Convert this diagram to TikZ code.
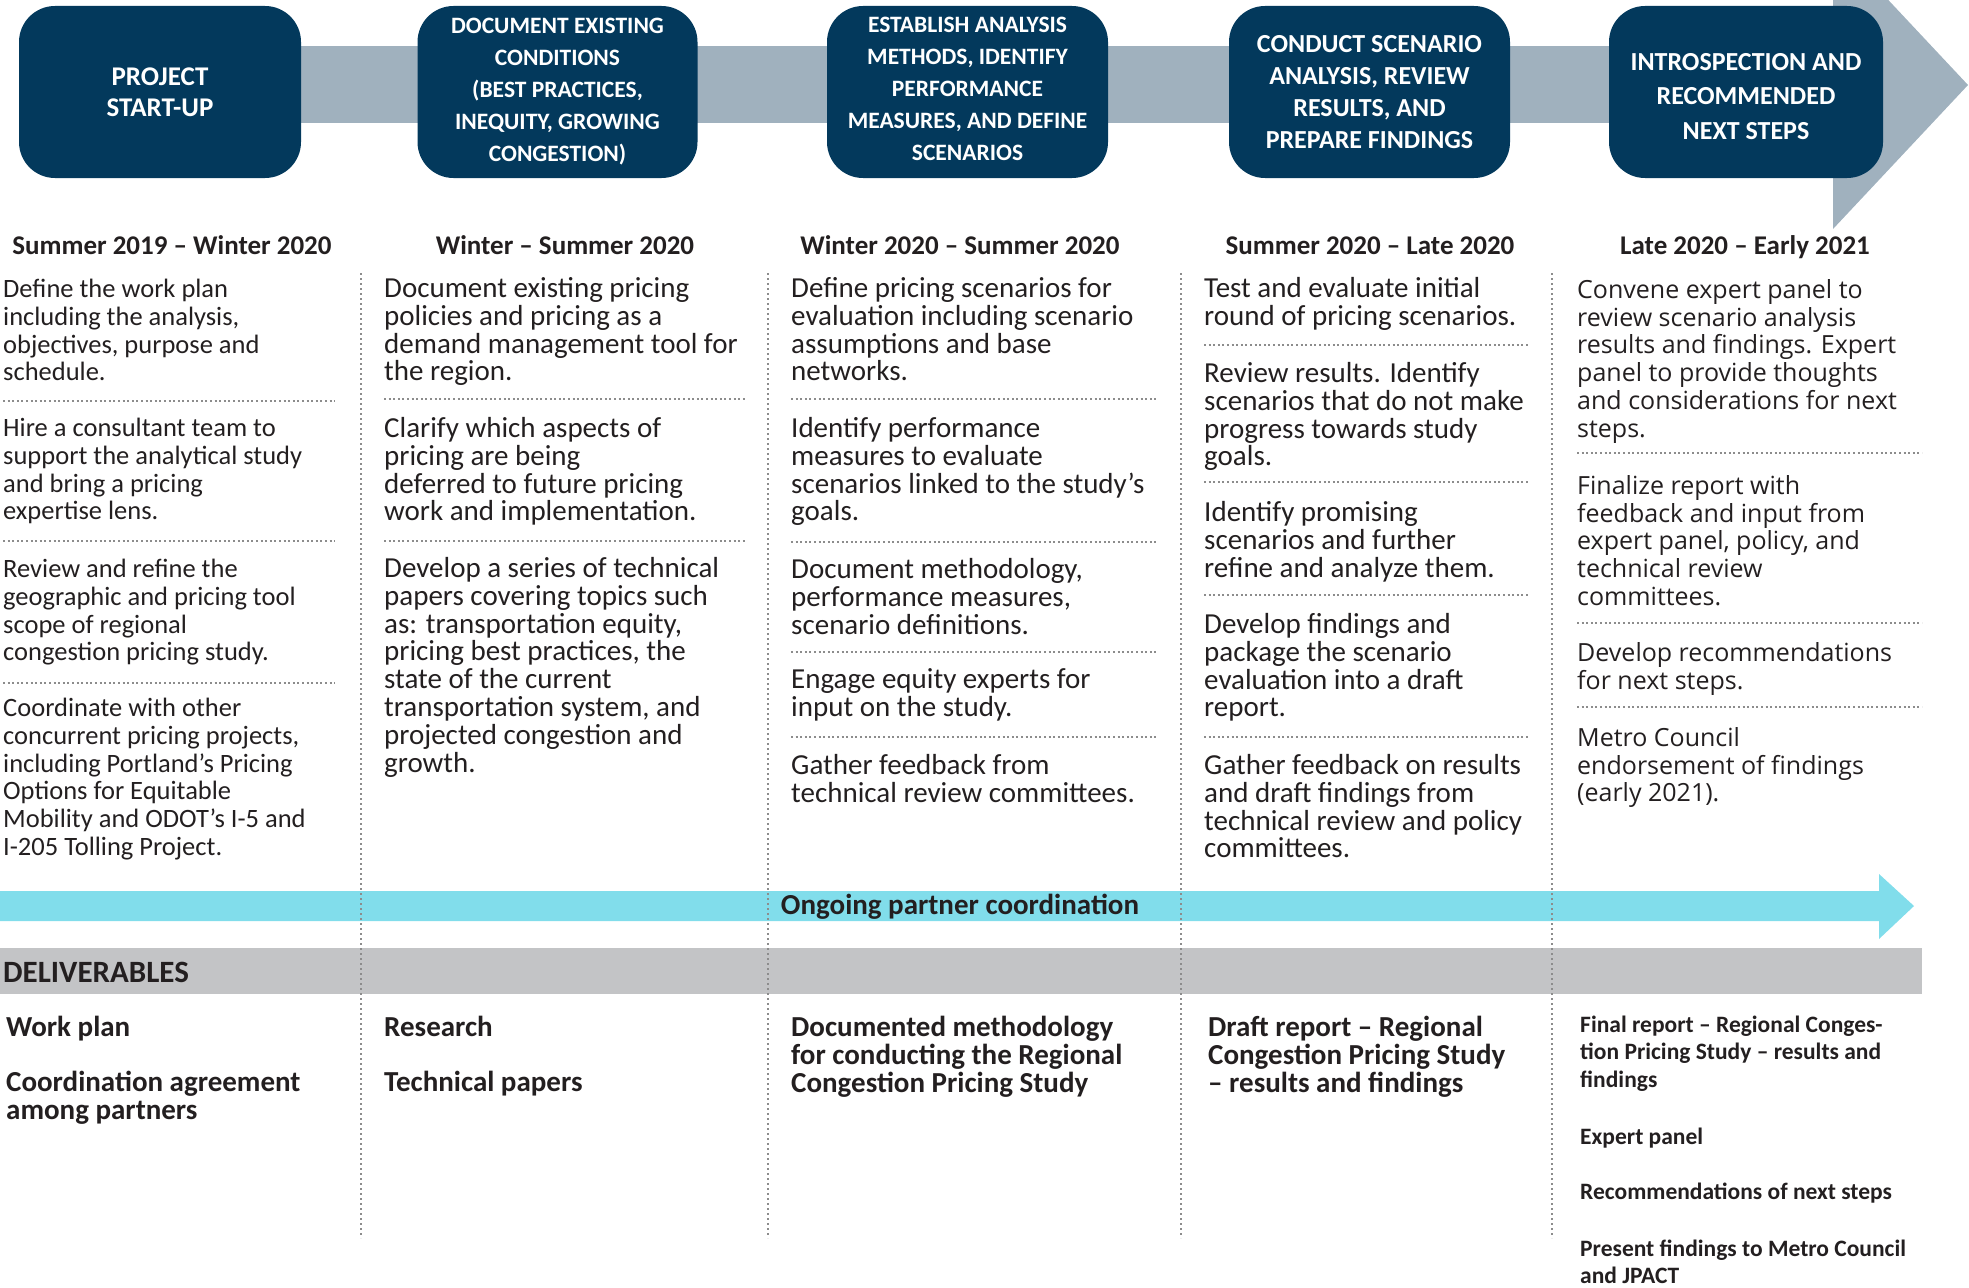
\documentclass[tikz,border=0pt]{standalone}
\usepackage{fontspec}
\setmainfont{Carlito}
\newfontfamily\osans{Open Sans}
\definecolor{navy}{RGB}{3,57,92}
\definecolor{bandgray}{RGB}{160,177,190}
\definecolor{cyanband}{RGB}{129,221,235}
\definecolor{delgray}{RGB}{195,196,198}
\definecolor{ink}{RGB}{35,31,32}
\definecolor{dotgray}{RGB}{140,140,140}
\newcommand\fA{\fontsize{26.5}{27.9}\selectfont\lineskiplimit=-100pt\lineskip=0pt\relax}
\newcommand\fB{\fontsize{29}{27.9}\selectfont\lineskiplimit=-100pt\lineskip=0pt\relax}
\newcommand\fC{\osans\fontsize{25}{27.8}\selectfont\lineskiplimit=-100pt\lineskip=0pt\relax}
\newcommand\fD{\bfseries\fontsize{29}{28}\selectfont\lineskiplimit=-100pt\lineskip=0pt\relax}
\newcommand\fE{\bfseries\fontsize{23.5}{27.6}\selectfont\lineskiplimit=-100pt\lineskip=0pt\relax}
\newcommand\fH{\bfseries\fontsize{27}{30}\selectfont}
\newcommand\TS{\rule{0pt}{30pt}}
\begin{document}
\begin{tikzpicture}[x=1pt,y=-1pt,
  phasebox/.style={fill=navy, rounded corners=36pt, minimum height=172pt, text=white, align=center, inner sep=0pt},
  datetxt/.style={anchor=base, font=\fH, text=ink, inner sep=0pt},
  para/.style={anchor=north west, inner sep=0pt, align=left, text=ink},
  singl/.style={anchor=base west, inner sep=0pt, text=ink},
  sepline/.style={dotgray, line width=2pt, dash pattern=on 2pt off 2.6pt},
  divline/.style={dotgray, line width=2.2pt, dash pattern=on 2.2pt off 2.8pt}]
\useasboundingbox (0,0) rectangle (1969,1287);
\clip (0,0) rectangle (1969,1287);

% top process band
\fill[bandgray] (160,46) rectangle (1834,123);
\fill[bandgray] (1833,-59) -- (1968,85) -- (1833,229) -- cycle;

% phase boxes
\node[phasebox, minimum width=282pt, font=\bfseries\fontsize{27}{31}\selectfont] (b1) at (160,92) {PROJECT\\START-UP};
\node[phasebox, minimum width=280pt, font=\bfseries\fontsize{23.5}{32}\selectfont] (b2) at (557.5,92) {DOCUMENT EXISTING\\CONDITIONS\\(BEST PRACTICES,\\INEQUITY, GROWING\\CONGESTION)};
\node[phasebox, minimum width=281pt, font=\bfseries\fontsize{23.5}{32}\selectfont] (b3) at (967.5,92) {\raisebox{0pt}[0pt][0pt]{}ESTABLISH ANALYSIS\\METHODS, IDENTIFY\\PERFORMANCE\\MEASURES, AND DEFINE\\SCENARIOS\rule[-6pt]{0pt}{6pt}};
\node[phasebox, minimum width=281pt, font=\bfseries\fontsize{26}{32}\selectfont] (b4) at (1369.5,92) {CONDUCT SCENARIO\\ANALYSIS, REVIEW\\RESULTS, AND\\PREPARE FINDINGS};
\node[phasebox, minimum width=274pt, font=\bfseries\fontsize{26}{34.5}\selectfont] (b5) at (1746,92) {\rule{0pt}{26pt}INTROSPECTION AND\\RECOMMENDED\\NEXT STEPS};

% dates
\node[datetxt] (d1) at (172,254) {Summer 2019 – Winter 2020};
\node[datetxt] (d2) at (565,254) {Winter – Summer 2020};
\node[datetxt] (d3) at (960,254) {Winter 2020 – Summer 2020};
\node[datetxt] (d4) at (1370,254) {Summer 2020 – Late 2020};
\node[datetxt] (d5) at (1745,254) {Late 2020 – Early 2021};

% column 1
\node[para, font=\fA] (c1a) at (3,297-30) {\TS Define the work plan\\including the analysis,\\objectives, purpose and\\schedule.};
\node[para, font=\fA] (c1b) at (3,436-30) {\TS Hire a consultant team to\\support the analytical study\\and bring a pricing\\expertise lens.};
\node[para, font=\fA] (c1c) at (3,577-30) {\TS Review and refine the\\geographic and pricing tool\\scope of regional\\congestion pricing study.};
\node[para, font=\fA] (c1d) at (3,716-30) {\TS Coordinate with other\\concurrent pricing projects,\\including Portland’s Pricing\\Options for Equitable\\Mobility and ODOT’s I-5 and\\I-205 Tolling Project.};
\foreach \yy in {401,541,683} \draw[sepline] (3,\yy) -- (335,\yy);

% column 2
\node[para, font=\fB] (c2a) at (384,297-30) {\TS Document existing pricing\\policies and pricing as a\\demand management tool for\\the region.};
\node[para, font=\fB] (c2b) at (384,437-30) {\TS Clarify which aspects of\\pricing are being\\deferred to future pricing\\work and implementation.};
\node[para, font=\fB] (c2c) at (384,577-30) {\TS Develop a series of technical\\papers covering topics such\\as: transportation equity,\\pricing best practices, the\\state of the current\\transportation system, and\\projected congestion and\\growth.};
\foreach \yy in {399,541} \draw[sepline] (384,\yy) -- (745,\yy);

% column 3
\node[para, font=\fB] (c3a) at (791,297-30) {\TS Define pricing scenarios for\\evaluation including scenario\\assumptions and base\\networks.};
\node[para, font=\fB] (c3b) at (791,437-30) {\TS Identify performance\\measures to evaluate\\scenarios linked to the study’s\\goals.};
\node[para, font=\fB] (c3c) at (791,578-30) {\TS Document methodology,\\performance measures,\\scenario definitions.};
\node[para, font=\fB] (c3d) at (791,688-30) {\TS Engage equity experts for\\input on the study.};
\node[para, font=\fB] (c3e) at (791,774-30) {\TS Gather feedback from\\technical review committees.};
\foreach \yy in {399,542,652,737} \draw[sepline] (791,\yy) -- (1157,\yy);

% column 4
\node[para, font=\fB] (c4a) at (1204,297-30) {\TS Test and evaluate initial\\round of pricing scenarios.};
\node[para, font=\fB] (c4b) at (1204,382-30) {\TS Review results. Identify\\scenarios that do not make\\progress towards study\\goals.};
\node[para, font=\fB] (c4c) at (1204,521-30) {\TS Identify promising\\scenarios and further\\refine and analyze them.};
\node[para, font=\fB] (c4d) at (1204,633-30) {\TS Develop findings and\\package the scenario\\evaluation into a draft\\report.};
\node[para, font=\fB] (c4e) at (1204,774-30) {\TS Gather feedback on results\\and draft findings from\\technical review and policy\\committees.};
\foreach \yy in {345,482,595,737} \draw[sepline] (1204,\yy) -- (1529,\yy);

% column 5
\node[para, font=\fC] (c5a) at (1577,298-30) {\TS Convene expert panel to\\review scenario analysis\\results and findings. Expert\\panel to provide thoughts\\and considerations for next\\steps.};
\node[para, font=\fC] (c5b) at (1577,494-30) {\TS Finalize report with\\feedback and input from\\expert panel, policy, and\\technical review\\committees.};
\node[para, font=\fC] (c5c) at (1577,661-30) {\TS Develop recommendations\\for next steps.};
\node[para, font=\fC] (c5d) at (1577,746-30) {\TS Metro Council\\endorsement of findings\\(early 2021).};
\foreach \yy in {453,623,707} \draw[sepline] (1577,\yy) -- (1922,\yy);

% ongoing partner coordination arrow
\fill[cyanband] (0,891) -- (1879,891) -- (1879,874) -- (1914,906) -- (1879,939) -- (1879,921) -- (0,921) -- cycle;
\node[anchor=base, inner sep=0pt, text=ink, font=\bfseries\fontsize{29}{30}\selectfont] (og) at (960,914) {Ongoing partner coordination};

% deliverables band
\fill[delgray] (0,948) rectangle (1922,994);
\node[singl, font=\bfseries\fontsize{31}{32}\selectfont] (dl) at (3,982) {DELIVERABLES};

% deliverables
\node[singl, font=\fD] (e1a) at (6,1036) {Work plan};
\node[para, font=\fD] (e1b) at (6,1091-30) {\TS Coordination agreement\\among partners};
\node[singl, font=\fD] (e2a) at (384,1036) {Research};
\node[singl, font=\fD] (e2b) at (384,1091) {Technical papers};
\node[para, font=\fD] (e3a) at (791,1036-30) {\TS Documented methodology\\for conducting the Regional\\Congestion Pricing Study};
\node[para, font=\fD] (e4a) at (1208,1036-30) {\TS Draft report – Regional\\Congestion Pricing Study\\– results and findings};
\node[para, font=\fE] (e5a) at (1580,1032-30) {\TS Final report – Regional Conges-\\tion Pricing Study – results and\\findings};
\node[singl, font=\fE] (e5b) at (1580,1144) {Expert panel};
\node[singl, font=\fE] (e5c) at (1580,1199) {Recommendations of next steps};
\node[para, font=\fE] (e5d) at (1580,1256-30) {\TS Present findings to Metro Council\\and JPACT};

% vertical dividers
\foreach \xx in {361,768,1181,1552} \draw[divline] (\xx,273) -- (\xx,1238);
\end{tikzpicture}
\end{document}
